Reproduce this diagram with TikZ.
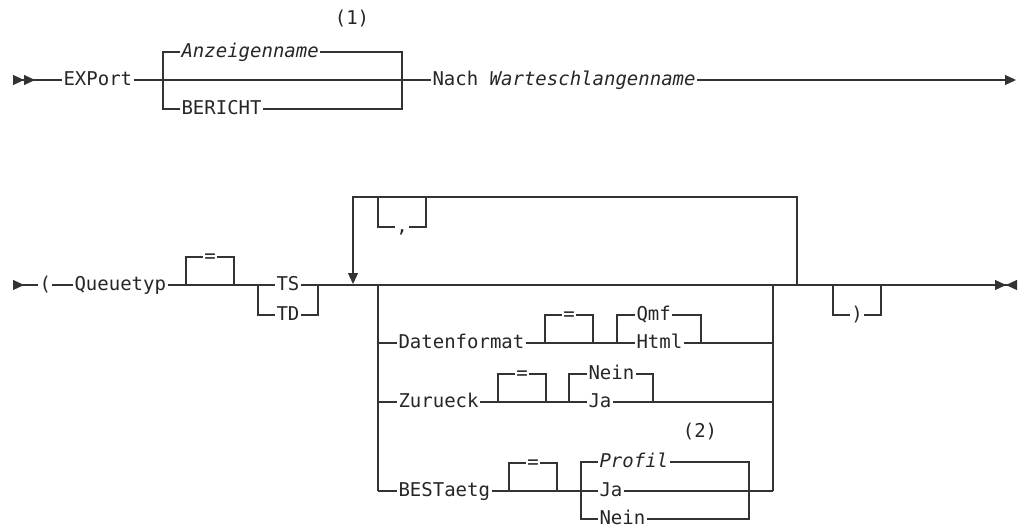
\documentclass[tikz,border=0pt]{standalone}
\usepackage{fontspec}
\setmonofont{DejaVu Sans Mono}
\renewcommand{\familydefault}{\ttdefault}
\AtBeginDocument{\fontsize{19}{23}\selectfont}
\usetikzlibrary{arrows.meta,positioning}

\tikzset{
  kw/.style={anchor=mid west, inner sep=0pt, outer sep=1.5pt, text=black!85},
  var/.style={kw, font=\itshape},
  note/.style={inner sep=0pt, text=black!85},
  tri/.tip={Triangle[length=11pt, width=10pt]},
  rtri/.tip={Triangle[length=11pt, width=10pt, reversed]}
}

\begin{document}
\begin{tikzpicture}[x=1pt, y=-1pt, line width=1.1pt, color=black!80]
\useasboundingbox (0,0) rectangle (1019,527);

% first line
\coordinate (s1) at (13,80);
\coordinate (a1) at (163,80);
\coordinate (b1) at (402,80);
\coordinate (e1) at (1016,80);
\node[kw] (exp) at (62,80) {EXPort};
\node[var] (anz) at (180,52) {Anzeigenname};
\node[kw] (ber) at (180,109) {BERICHT};
\node[note] (n1) at (352,19) {(1)};
\node[kw] (nach) at (431,80) {Nach \textit{Warteschlangenname}};
\draw[{rtri[] rtri[]}-] (s1) -- (exp.mid west);
\draw (exp.mid east) -- (nach.mid west);
\draw (anz.mid west) -| (a1) |- (ber.mid west);
\draw (anz.mid east) -| (b1) |- (ber.mid east);
\draw[-{tri[]}] (nach.mid east) -- (e1);

% second line
\coordinate (s2) at (13,285);
\coordinate (t1) at (258,285);
\coordinate (t2) at (318,285);
\coordinate (gl) at (378,285);
\coordinate (gr) at (773,285);
\coordinate (lp) at (797,285);
\coordinate (lr) at (797,197);
\coordinate (lt) at (353,197);
\coordinate (la) at (353,284);
\coordinate (c1) at (378,197);
\coordinate (c2) at (426,197);
\coordinate (r1) at (833,285);
\coordinate (r2) at (881,285);
\coordinate (e2) at (1017,285);
\node[kw] (par) at (38,285) {(};
\node[kw] (qt) at (73,285) {Queuetyp};
\node[kw] (ts) at (275,285) {TS};
\node[kw] (td) at (275,315) {TD};
\node[kw, anchor=mid] (cm) at (402,227) {,};
\node[kw, anchor=mid] (rp) at (857,315) {)};
\draw[{rtri[]}-] (s2) -- (par.mid west);
\draw (par.mid east) -- (qt.mid west);
\draw (qt.mid east) -- (ts.mid west);
\draw (ts.mid east) -- (t2) |- (td.mid east);
\draw (t1) |- (td.mid west);
\draw[-{tri[] rtri[]}] (t2) -- (e2);
\draw[-{tri[]}] (lp) -- (lr) -- (lt) -- (la);
\draw (c1) |- (cm.mid west);
\draw (cm.mid east) -| (c2);
\draw (r1) |- (rp.mid west);
\draw (rp.mid east) -| (r2);

% equal signs
\foreach \n/\l/\r/\y in {q/186/234/285, d/545/593/343, z/498/546/402, b/509/557/491} {
  \coordinate (\n l) at (\l,\y);
  \coordinate (\n r) at (\r,\y);
  \node[kw, anchor=mid] (eq\n) at ({(\l+\r)/2},\y-28) {=};
  \draw (\n l) |- (eq\n.mid west);
  \draw (eq\n.mid east) -| (\n r);
}

% options group
\foreach \n/\t/\y in {df/Datenformat/343, zu/Zurueck/402, be/BESTaetg/491} {
  \node[kw] (\n) at (397,\y) {\t};
  \draw (gl |- \n.mid west) -- (\n.mid west);
}
\draw (gl) -- (gl |- be.mid west);
\draw (gr) -- (gr |- be.mid east);

\coordinate (d1) at (617,343);
\coordinate (d2) at (701,343);
\node[kw] (qmf) at (635,315) {Qmf};
\node[kw] (html) at (635,343) {Html};
\draw (df.mid east) -- (html.mid west);
\draw (html.mid east) -- (gr |- html.mid east);
\draw (d1) |- (qmf.mid west);
\draw (qmf.mid east) -| (d2);

\coordinate (z1) at (569,402);
\coordinate (z2) at (653,402);
\node[kw] (nein1) at (587,374) {Nein};
\node[kw] (ja1) at (587,402) {Ja};
\draw (zu.mid east) -- (ja1.mid west);
\draw (ja1.mid east) -- (gr |- ja1.mid east);
\draw (z1) |- (nein1.mid west);
\draw (nein1.mid east) -| (z2);

\coordinate (p1) at (581,491);
\coordinate (p2) at (749,491);
\node[note] (n2) at (700,432) {(2)};
\node[var] (prof) at (598,462) {Profil};
\node[kw] (ja2) at (598,491) {Ja};
\node[kw] (nein2) at (598,519) {Nein};
\draw (be.mid east) -- (ja2.mid west);
\draw (ja2.mid east) -- (gr |- ja2.mid east);
\draw (prof.mid west) -| (p1) |- (nein2.mid west);
\draw (prof.mid east) -| (p2) |- (nein2.mid east);
\end{tikzpicture}
\end{document}
